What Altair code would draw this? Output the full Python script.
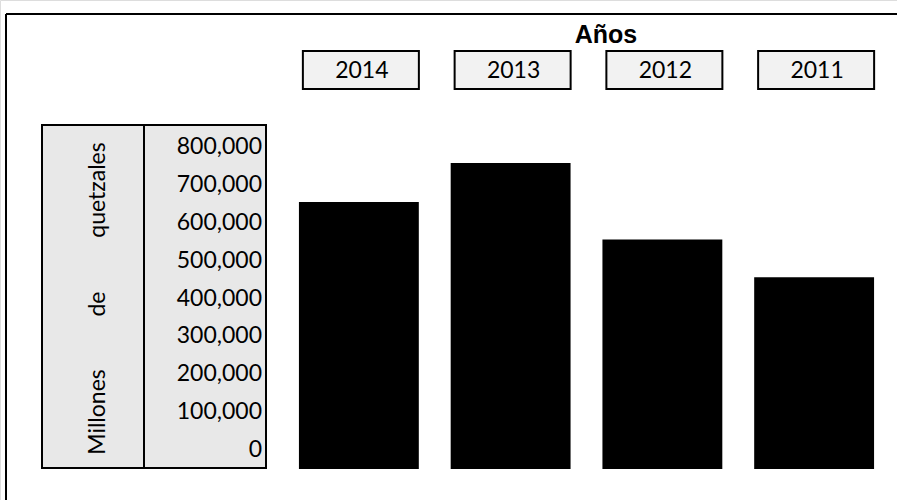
import altair as alt
import pandas as pd

# ---- data ----
years = ["2014", "2013", "2012", "2011"]
values = [655000, 758000, 556000, 456000]
tick_values = [0, 100000, 200000, 300000, 400000, 500000, 600000, 700000, 800000]
tick_labels = ["0", "100,000", "200,000", "300,000", "400,000",
               "500,000", "600,000", "700,000", "800,000"]
axis_title_words = ["Millones", "de", "quetzales"]
title_text = "Años"

bars_df = pd.DataFrame({"year": years, "value": values})
ticks_df = pd.DataFrame({"tick": tick_values, "label": tick_labels})
one = alt.Data(values=[{}])

FONT = "Lato"

xscale = alt.Scale(domain=years, range=[283, 890], paddingInner=0.21, paddingOuter=0.105)
yscale = alt.Scale(domain=[0, 800000], range=[450, 147], nice=False, zero=False)

X = alt.X("year:N", sort=years, scale=xscale, axis=None)

bars = alt.Chart(bars_df).mark_rect(color="black").encode(
    x=X,
    y=alt.Y("value:Q", scale=yscale, axis=None),
    y2=alt.value(469),
)

year_boxes = alt.Chart(bars_df).mark_bar(
    fill="#f2f2f2", stroke="black", strokeWidth=2, width=116, xOffset=2
).encode(x=X, y=alt.value(51), y2=alt.value(89))

year_text = alt.Chart(bars_df).mark_text(
    font=FONT, fontSize=23, dx=3, baseline="middle", color="black"
).encode(x=X, y=alt.value(71), text="year:N")

title = alt.Chart(one).mark_text(
    font="Liberation Sans", fontWeight="bold", fontSize=25, align="center",
    baseline="alphabetic", color="black"
).encode(x=alt.value(606), y=alt.value(43), text=alt.value(title_text))

box_left = alt.Chart(one).mark_rect(
    fill="#e8e8e8", stroke="black", strokeWidth=2
).encode(x=alt.value(42), x2=alt.value(144), y=alt.value(125), y2=alt.value(468))

box_right = alt.Chart(one).mark_rect(
    fill="#e8e8e8", stroke="black", strokeWidth=2
).encode(x=alt.value(144), x2=alt.value(266), y=alt.value(125), y2=alt.value(468))

word_pos = [412, 304, 190]
words_df = pd.DataFrame({"word": axis_title_words, "pos": word_pos})
axis_words = alt.Chart(words_df).mark_text(
    font=FONT, fontSize=23, angle=270, align="center", baseline="middle", color="black"
).encode(
    x=alt.value(98),
    y=alt.Y("pos:Q", scale=alt.Scale(domain=[0, 500], range=[0, 500]), axis=None),
    text="word:N",
)

tick_text = alt.Chart(ticks_df).mark_text(
    font=FONT, fontSize=23, align="right", baseline="middle", color="black"
).encode(
    x=alt.value(262),
    y=alt.Y("tick:Q", scale=yscale, axis=None),
    text="label:N",
)

border_top = alt.Chart(one).mark_rule(color="black", strokeWidth=2).encode(
    x=alt.value(6), x2=alt.value(897), y=alt.value(14)
)
border_left = alt.Chart(one).mark_rule(color="black", strokeWidth=2).encode(
    x=alt.value(6), y=alt.value(14), y2=alt.value(500)
)

chart = alt.layer(
    box_left, box_right, axis_words, tick_text, bars, year_boxes, year_text,
    title, border_top, border_left
).resolve_scale(y="independent").properties(
    width=897, height=500, padding=0, autosize=alt.AutoSizeParams(type="none")
).configure_view(stroke=None).configure(background="white")

chart.save("out.html", embed_options={"renderer": "svg", "actions": False})
